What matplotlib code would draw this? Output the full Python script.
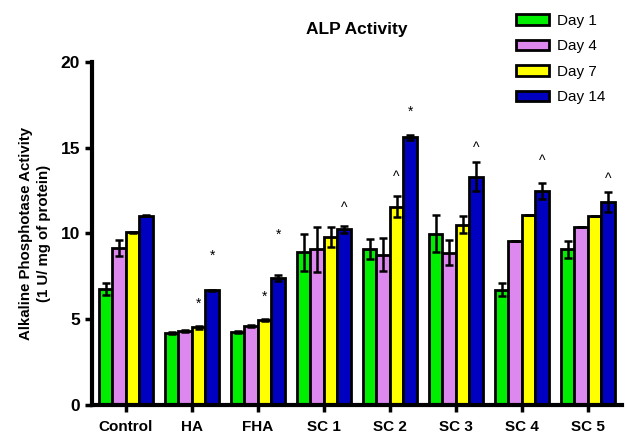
import numpy as np
import matplotlib.pyplot as plt

plt.rcParams['font.family'] = ['Liberation Sans', 'DejaVu Sans']

# groups and series
groups = ['Control', 'HA', 'FHA', 'SC 1', 'SC 2', 'SC 3', 'SC 4', 'SC 5']
days = ['Day 1', 'Day 4', 'Day 7', 'Day 14']
colors = ['#00EE00', '#DD88EE', '#FFFF00', '#0000C0']

day1 = [6.74, 4.19, 4.26, 8.91, 9.09, 9.98, 6.72, 9.07]
day4 = [9.15, 4.32, 4.61, 9.07, 8.76, 8.88, 9.59, 10.35]
day7 = [10.06, 4.53, 4.96, 9.79, 11.57, 10.52, 11.05, 10.99]
day14 = [11.03, 6.69, 7.42, 10.25, 15.60, 13.30, 12.50, 11.84]

err1 = [0.35, 0.05, 0.05, 1.08, 0.56, 1.07, 0.37, 0.52]
err4 = [0.48, 0.07, 0.05, 1.30, 0.95, 0.73, 0.0, 0.0]
err7 = [0.05, 0.07, 0.04, 0.56, 0.60, 0.52, 0.0, 0.0]
err14 = [0.03, 0.03, 0.18, 0.20, 0.15, 0.85, 0.47, 0.60]

# significance marks: (group index, day index, symbol, height)
sig_group = [1, 1, 2, 2, 3, 4, 4, 5, 6, 7]
sig_day = [2, 3, 2, 3, 3, 2, 3, 3, 3, 3]
sig_text = ['*', '*', '*', '*', '^', '^', '*', '^', '^', '^']
sig_y = [5.9, 8.7, 6.3, 9.9, 11.5, 13.3, 17.1, 15.0, 14.2, 13.2]

values = [day1, day4, day7, day14]
errors = [err1, err4, err7, err14]

fig = plt.figure(figsize=(6.25, 4.36), dpi=100)
ax = fig.add_axes([0.147, 0.071, 0.848, 0.787])

x = np.arange(len(groups))
w = 0.205
offsets = (np.arange(4) - 1.5) * w
for i in range(4):
    ax.bar(x + offsets[i], values[i], w, color=colors[i], edgecolor='black',
           linewidth=2, label=days[i], zorder=2)
    ax.errorbar(x + offsets[i], values[i], yerr=errors[i], fmt='none',
                ecolor='black', elinewidth=1.8, capsize=3, capthick=1.8, zorder=3)

for g, d, s, yv in zip(sig_group, sig_day, sig_text, sig_y):
    ax.text(x[g] + offsets[d], yv, s, ha='center', va='center', fontsize=10)

ax.set_xlim(-0.515, 7.515)
ax.set_ylim(0, 20)
ax.set_yticks([0, 5, 10, 15, 20])
ax.set_xticks(x)
ax.set_xticklabels(groups, fontweight='bold', fontsize=11)
for lab in ax.get_yticklabels():
    lab.set_fontweight('bold')
    lab.set_fontsize(12.5)
ax.tick_params(axis='both', width=2.5, length=5)
ax.tick_params(axis='x', pad=6)

ax.spines['top'].set_visible(False)
ax.spines['right'].set_visible(False)
ax.spines['left'].set_linewidth(3)
ax.spines['bottom'].set_linewidth(3)

ax.set_ylabel('Alkaline Phosphotase Activity\n(1 U/ mg of protein)',
              fontweight='bold', fontsize=10.8, labelpad=7, linespacing=1.35)
ax.set_title('ALP Activity', fontweight='bold', fontsize=12.5, pad=20)

leg = ax.legend(loc='upper right', bbox_to_anchor=(0.995, 1.18), frameon=False,
                fontsize=11, handlelength=2.2, handleheight=0.65,
                labelspacing=0.75, handletextpad=0.5)

fig.savefig('out.png', dpi=100)
